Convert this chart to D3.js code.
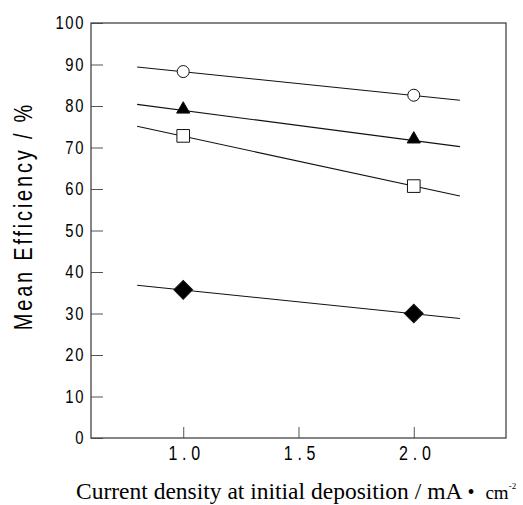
<!DOCTYPE html>
<html>
<head>
<meta charset="utf-8">
<script src="https://cdn.jsdelivr.net/npm/d3@7"></script>
<style>
  body { margin: 0; background: #fff; }
</style>
</head>
<body>
<div id="chart"></div>
<script>
// current density at initial deposition (mA cm-2)
const densities = [1.0, 2.0];
const xTicks = [1.0, 1.5, 2.0];
const yTicks = [0, 10, 20, 30, 40, 50, 60, 70, 80, 90, 100];

// mean efficiency (%) for each series
const circleValues = [88.3, 82.6];
const triangleValues = [79.2, 72.0];
const squareValues = [72.8, 60.7];
const diamondValues = [35.7, 30.0];

// fitted lines, value at x = 0.8 and x = 2.2
const fitRange = [0.8, 2.2];
const circleFit = [89.4, 81.4];
const triangleFit = [80.4, 70.2];
const squareFit = [75.1, 58.3];
const diamondFit = [36.8, 28.8];

const series = [
  { name: "circle", values: circleValues, fit: circleFit },
  { name: "triangle", values: triangleValues, fit: triangleFit },
  { name: "square", values: squareValues, fit: squareFit },
  { name: "diamond", values: diamondValues, fit: diamondFit }
];

var margin = { top: 23, right: 17, bottom: 67, left: 91 },
  width = 523 - margin.left - margin.right,
  height = 505 - margin.top - margin.bottom;

var x = d3.scaleLinear().domain([0.6, 2.4]).range([0, width]);
var y = d3.scaleLinear().domain([0, 100]).range([height, 0]);

var svg = d3
  .select("#chart")
  .append("svg")
  .attr("width", 523)
  .attr("height", 505)
  .append("g")
  .attr("transform", "translate(" + margin.left + "," + margin.top + ")");

var tickFont = "'Liberation Sans', Arial, sans-serif";
var squeeze = 0.8; // narrow gothic look

// y axis, ticks pointing inward
var yAxis = d3.axisLeft(y).tickValues(yTicks).tickSize(-12).tickSizeOuter(0);
svg
  .append("g")
  .attr("class", "y axis")
  .call(yAxis)
  .call(g => g.select(".domain").remove())
  .call(g => g.selectAll("line").attr("stroke", "#555"))
  .selectAll("text")
  .attr("fill", "#000")
  .attr("x", -6 / squeeze)
  .attr("transform", "scale(" + squeeze + ",1)")
  .style("font-family", tickFont)
  .style("font-size", "18.5px")
  .style("letter-spacing", "2px");

var xAxis = d3.axisBottom(x).tickValues(xTicks).tickSize(-11).tickSizeOuter(0).tickPadding(8)
  .tickFormat(d3.format(".1f"));
svg
  .append("g")
  .attr("class", "x axis")
  .attr("transform", "translate(0," + height + ")")
  .call(xAxis)
  .call(g => g.select(".domain").remove())
  .call(g => g.selectAll("line").attr("stroke", "#555"))
  .selectAll("text")
  .attr("fill", "#000")
  .attr("x", 3 / squeeze)
  .attr("transform", "scale(" + squeeze + ",1)")
  .style("font-family", tickFont)
  .style("font-size", "20px")
  .style("letter-spacing", "6px");

// frame
svg
  .append("rect")
  .attr("x", 0)
  .attr("y", 0)
  .attr("width", width)
  .attr("height", height)
  .attr("fill", "none")
  .attr("stroke", "#444")
  .attr("stroke-width", 1.3);

// fitted lines
var line = d3.line().x(d => x(d[0])).y(d => y(d[1]));
svg
  .selectAll(".fit")
  .data(series)
  .enter()
  .append("path")
  .attr("class", "fit")
  .attr("d", s => line(fitRange.map((v, i) => [v, s.fit[i]])))
  .attr("fill", "none")
  .attr("stroke", "#111")
  .attr("stroke-width", 1.1);

// markers
var symbols = {
  circle: { type: d3.symbolCircle, size: Math.PI * 36, fill: "#fff" },
  triangle: { type: d3.symbolTriangle, size: 75, fill: "#000" },
  square: { type: d3.symbolSquare, size: 160, fill: "#fff" },
  diamond: { type: d3.symbolSquare, size: 175, fill: "#000", rotate: 45 }
};

series.forEach(function(s) {
  var sym = symbols[s.name];
  svg
    .selectAll(".pt-" + s.name)
    .data(s.values)
    .enter()
    .append("path")
    .attr("class", "pt-" + s.name)
    .attr("d", d3.symbol().type(sym.type).size(sym.size))
    .attr("transform", (d, i) =>
      "translate(" + x(densities[i]) + "," + y(d) + ")" + (sym.rotate ? " rotate(" + sym.rotate + ")" : ""))
    .attr("fill", sym.fill)
    .attr("stroke", "#111")
    .attr("stroke-width", 1);
});

// axis titles
svg
  .append("text")
  .attr("transform", "translate(-59," + (216 - margin.top) + ") rotate(-90) scale(" + squeeze + ",1)")
  .attr("text-anchor", "middle")
  .style("font-family", tickFont)
  .style("font-size", "25px")
  .style("letter-spacing", "3.5px")
  .attr("fill", "#000")
  .text("Mean Efficiency / %");

var xt = svg
  .append("text")
  .attr("x", 76 - margin.left)
  .attr("y", height + 61)
  .style("font-family", "'Liberation Serif', 'Times New Roman', serif")
  .style("font-size", "23.5px")
  .attr("fill", "#000");
xt.append("tspan").text("Current density at initial deposition / mA");
xt.append("tspan").attr("dx", 5).style("font-size", "20px").text("\u2022");
xt.append("tspan").attr("dx", 11).style("font-size", "19px").text("cm");
xt.append("tspan").attr("dy", -10).style("font-size", "9px").text("-2");
</script>
</body>
</html>
